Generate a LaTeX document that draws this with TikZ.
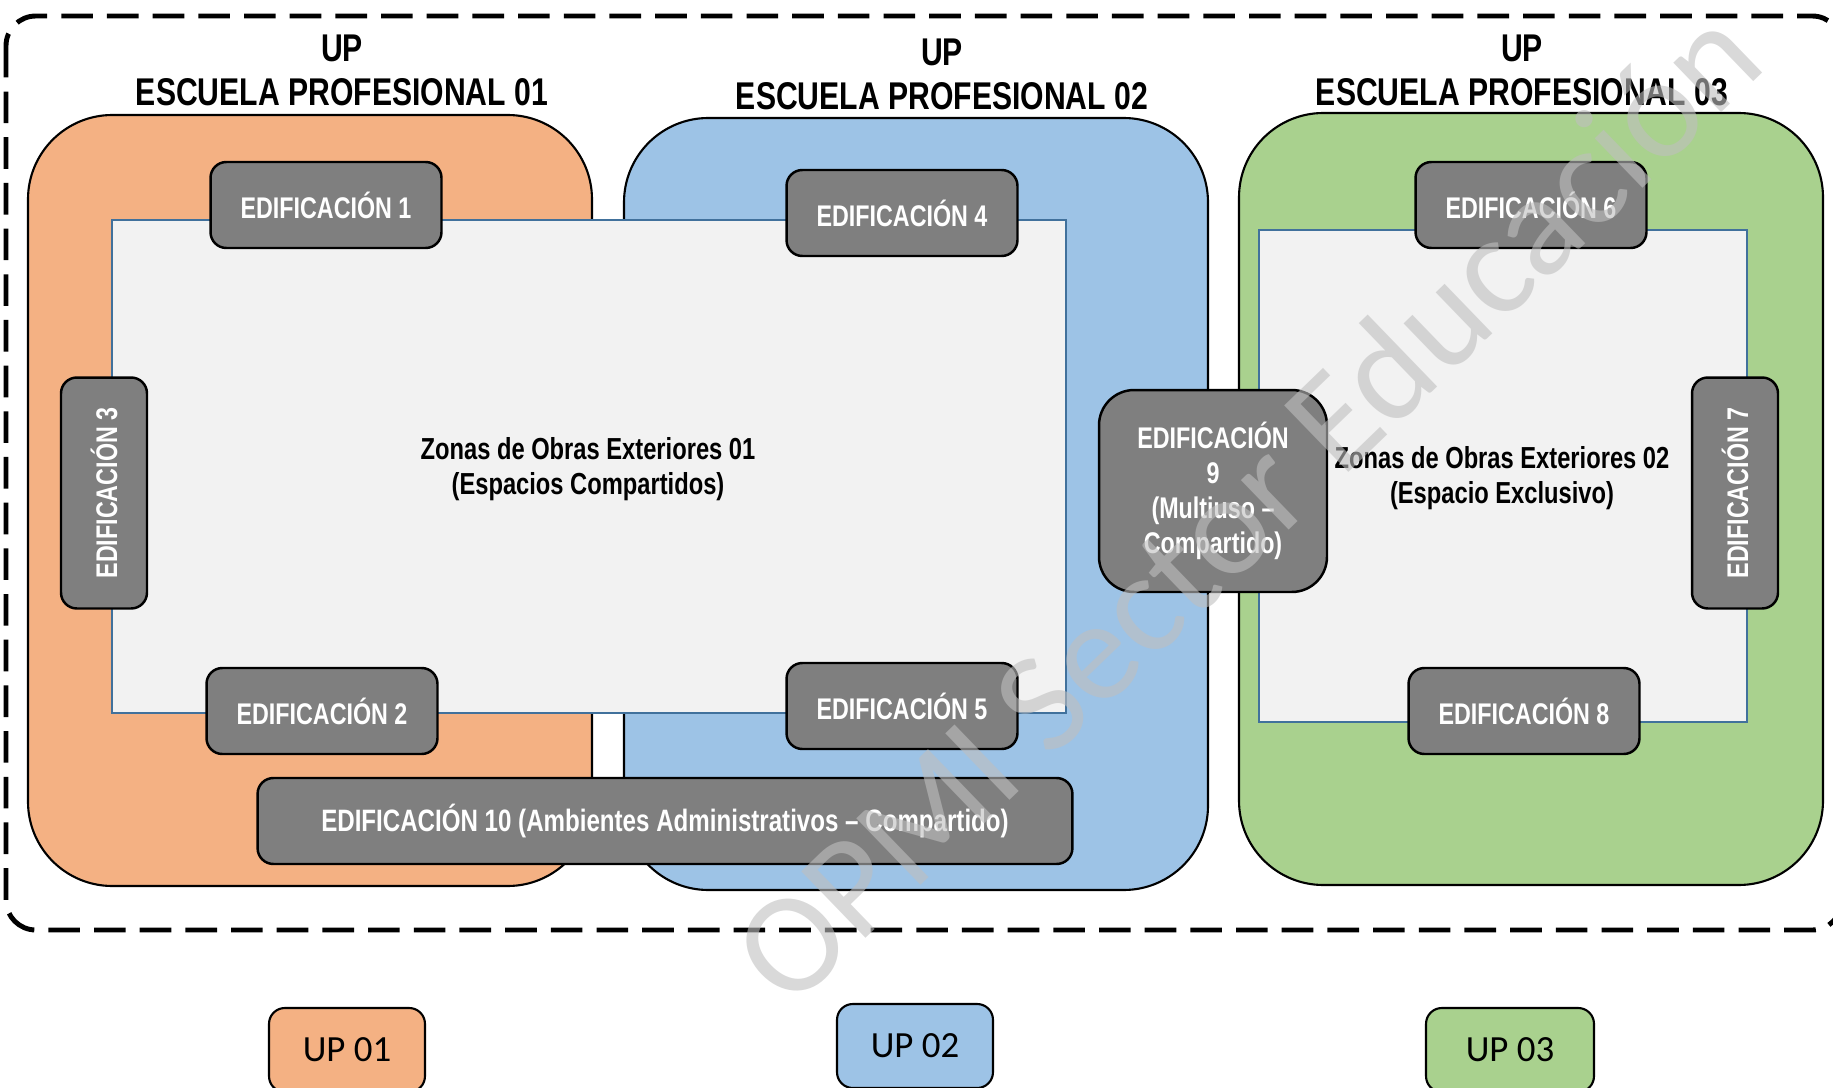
\documentclass[tikz,border=0pt]{standalone}
\usepackage{fontspec}
\setmainfont{Liberation Sans}
\newfontfamily\narrowfont[FakeStretch=0.78]{Liberation Sans}
\newfontfamily\calibrifont{Carlito}
\usepackage{tikz}
\usetikzlibrary{positioning}
\definecolor{upnaranja}{HTML}{F4B183}
\definecolor{upazul}{HTML}{9DC3E6}
\definecolor{upverde}{HTML}{A9D18E}
\definecolor{edifgris}{HTML}{7F7F7F}
\definecolor{zonafondo}{HTML}{F2F2F2}
\definecolor{zonaborde}{HTML}{41719C}
\definecolor{marcagua}{HTML}{BFBFBF}

\begin{document}
\begin{tikzpicture}[x=0.02cm, y=-0.02cm,
    upshape/.style={draw=black, line width=1.2pt, rounded corners=48pt},
    zona/.style={draw=zonaborde, line width=0.9pt, fill=zonafondo},
    edif/.style={draw=black, line width=1.4pt, fill=edifgris, rounded corners=9pt,
        text=white, font=\narrowfont\bfseries\fontsize{17}{20}\selectfont,
        minimum width=4.62cm, minimum height=1.72cm, align=center, inner sep=2pt},
    titulo/.style={font=\narrowfont\bfseries\fontsize{22}{25}\selectfont, align=center},
    zonatexto/.style={font=\narrowfont\bfseries\fontsize{17.3}{20}\selectfont, align=center},
    leyenda/.style={draw=black, line width=1.2pt, rounded corners=9pt,
        minimum width=3.12cm, minimum height=1.68cm,
        font=\calibrifont\fontsize{21}{24}\selectfont},
    marca/.style={text=marcagua, text opacity=0.6, inner sep=0pt,
        font=\calibrifont\fontsize{82}{90}\selectfont}
]
\useasboundingbox (0,0) rectangle (1833,1088);

% unidades productoras
\draw[upshape, fill=upnaranja] (28,115) rectangle (592,886);
\draw[upshape, fill=upazul] (624,118) rectangle (1208,890);
\draw[upshape, fill=upverde] (1239,113) rectangle (1823,885);

% limite del conjunto
\draw[line width=2.8pt, dash pattern=on 18pt off 8pt, rounded corners=17pt]
    (6,16) rectangle (1842,930);

\node[titulo] (tit1) at (342,70) {UP\\ESCUELA PROFESIONAL 01};
\node[titulo] (tit2) at (942,74) {UP\\ESCUELA PROFESIONAL 02};
\node[titulo] (tit3) at (1522,70) {UP\\ESCUELA PROFESIONAL 03};

% zonas de obras exteriores
\draw[zona] (112,220) rectangle (1066,713);
\draw[zona] (1259,230) rectangle (1747,722);
\node[zonatexto] (zona1) at (588,469) {Zonas de Obras Exteriores 01\\(Espacios Compartidos)};
\node[zonatexto] (zona2) at (1502,478) {Zonas de Obras Exteriores 02\\(Espacio Exclusivo)};

% edificaciones
\node[edif] (ed1) at (326,205) {EDIFICACIÓN 1};
\node[edif] (ed2) at (322,711) {EDIFICACIÓN 2};
\node[edif, rotate=90] (ed3) at (104,493) {EDIFICACIÓN 3};
\node[edif] (ed4) at (902,213) {EDIFICACIÓN 4};
\node[edif] (ed5) at (902,706) {EDIFICACIÓN 5};
\node[edif] (ed6) at (1531,205) {EDIFICACIÓN 6};
\node[edif, rotate=90] (ed7) at (1735,493) {EDIFICACIÓN 7};
\node[edif] (ed8) at (1524,711) {EDIFICACIÓN 8};
\node[edif, minimum width=4.56cm, minimum height=4.04cm, rounded corners=20pt]
    (ed9) at (1213,491) {EDIFICACIÓN\\9\\(Multiuso –\\Compartido)};
\node[edif, minimum width=16.3cm, font=\narrowfont\bfseries\fontsize{17.6}{20}\selectfont]
    (ed10) at (665,821) {EDIFICACIÓN 10 (Ambientes Administrativos – Compartido)};

% leyenda
\node[leyenda, fill=upnaranja] (ley1) at (347,1050) {UP 01};
\node[leyenda, fill=upazul] (ley2) at (915,1046) {UP 02};
\node[leyenda, fill=upverde, minimum width=3.36cm] (ley3) at (1510,1050) {UP 03};

\node[marca, rotate=44, anchor=base west] (agua) at (790,1012) {OPMI Sector Educación};
\end{tikzpicture}
\end{document}
